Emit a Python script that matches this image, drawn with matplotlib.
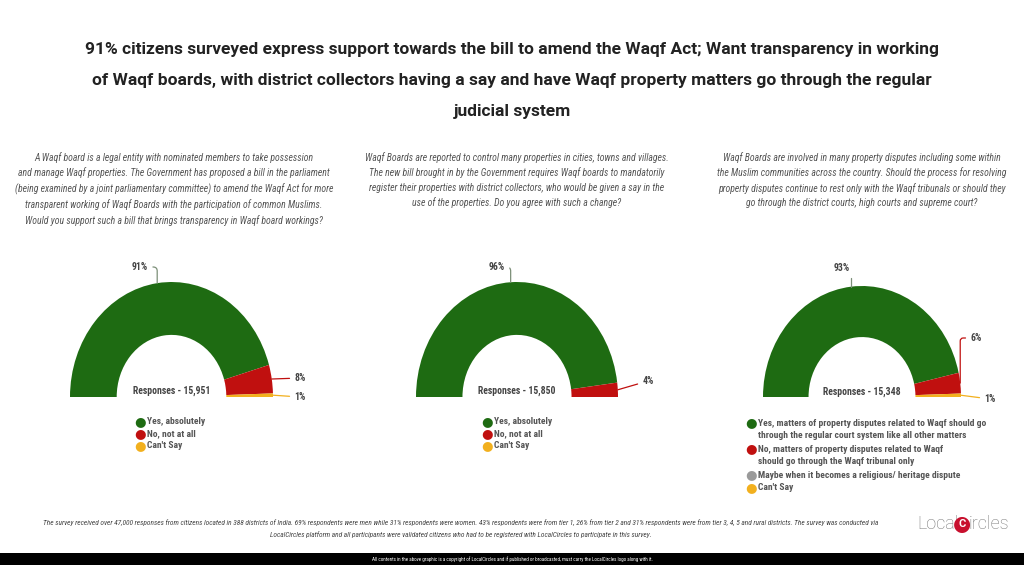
import numpy as np
import matplotlib.pyplot as plt
from matplotlib.patches import Wedge

############ data ##################
title = ("91% citizens surveyed express support towards the bill to amend the Waqf Act; Want transparency in working\n"
         "of Waqf boards, with district collectors having a say and have Waqf property matters go through the regular\n"
         "judicial system")

questions = [
    "A Waqf board is a legal entity with nominated members to take possession\n"
    "and manage Waqf properties. The Government has proposed a bill in the parliament\n"
    "(being examined by a joint parliamentary committee) to amend the Waqf Act for more\n"
    "transparent working of Waqf Boards with the participation of common Muslims.\n"
    "Would you support such a bill that brings transparency in Waqf board workings?",
    "Waqf Boards are reported to control many properties in cities, towns and villages.\n"
    "The new bill brought in by the Government requires Waqf boards to mandatorily\n"
    "register their properties with district collectors, who would be given a say in the\n"
    "use of the properties. Do you agree with such a change?",
    "Waqf Boards are involved in many property disputes including some within\n"
    "the Muslim communities across the country. Should the process for resolving\n"
    "property disputes continue to rest only with the Waqf tribunals or should they\n"
    "go through the district courts, high courts and supreme court?",
]

labels_1 = ["Yes, absolutely", "No, not at all", "Can't Say"]
values_1 = [91, 8, 1]
labels_2 = ["Yes, absolutely", "No, not at all", "Can't Say"]
values_2 = [96, 4, 0]
labels_3 = ["Yes, matters of property disputes related to Waqf should go\nthrough the regular court system like all other matters",
            "No, matters of property disputes related to Waqf\nshould go through the Waqf tribunal only",
            "Maybe when it becomes a religious/ heritage dispute",
            "Can't Say"]
values_3 = [93, 6, 0, 1]
responses = ["15,951", "15,850", "15,348"]

footer = ("The survey received over 47,000 responses from citizens located in 388 districts of India. 69% respondents were men while 31% respondents were women. "
          "43% respondents were from tier 1, 26% from tier 2 and 31% respondents were from tier 3, 4, 5 and rural districts. The survey was conducted via\n"
          "LocalCircles platform and all participants were validated citizens who had to be registered with LocalCircles to participate in this survey.")
copyright_txt = ("All contents in the above graphic is a copyright of LocalCircles and if published or broadcasted, "
                 "must carry the LocalCircles logo along with it.")

############ style ##################
GREEN = '#1e6b12'
RED = '#c0100f'
YELLOW = '#f2b01e'
GREY = '#9a9a9a'
cols_3 = [GREEN, RED, GREY, YELLOW]
cols_2 = [GREEN, RED, YELLOW]

COND = ['Roboto Condensed', 'Archivo Narrow', 'Asap Condensed', 'DejaVu Sans']
plt.rcParams['font.family'] = ['Roboto', 'DejaVu Sans']

W, H = 1024, 565
fig = plt.figure(figsize=(W / 100, H / 100), dpi=100)
fig.patch.set_facecolor('white')

def fx(px):
    return px / W

def fy(py):
    return 1 - py / H

fig.text(0.5, fy(80.5), title, ha='center', va='center', fontsize=12.5, fontweight='bold',
         color='#222222', linespacing=2.3)

q_centers = [174, 517, 862]
for qx, q in zip(q_centers, questions):
    fig.text(fx(qx), fy(152), q, ha='center', va='top', fontsize=7.05, style='italic',
             color='#555555', linespacing=1.52, family=COND)

############ donuts ##################
def draw_donut(box, values, colors, resp, label_pos, leg_x, leg_y, legend_labels, leg_gap):
    left, right, top, base = box
    ax = fig.add_axes([fx(left), fy(base), (right - left) / W, (base - top) / H])
    ax.set_xlim(-1, 1)
    ax.set_ylim(0, 1)
    ax.axis('off')
    total = float(sum(values))
    angle = 180.0
    mids = []
    for v, c in zip(values, colors):
        span = 180.0 * v / total
        if v > 0:
            ax.add_patch(Wedge((0, 0), 1.0, angle - span, angle, width=0.46,
                               facecolor=c, edgecolor='none'))
        mids.append(angle - span / 2)
        angle -= span
    ax.text(0, 0.05, "Responses - " + resp, ha='center', va='center', fontsize=7.0,
            fontweight='bold', color='#444444', family=COND)
    # value labels with leader lines
    for v, c, m, lp in zip(values, colors, mids, label_pos):
        if lp is None:
            continue
        (tx, ty, style) = lp
        px = np.cos(np.radians(m))
        py = np.sin(np.radians(m))
        tdx = (tx - left) / (right - left) * 2 - 1
        tdy = (base - ty) / (base - top)
        ax.annotate("%d%%" % v, xy=(px, py), xytext=(tdx, tdy), textcoords='data',
                    ha='center', va='center', fontsize=7.0, fontweight='bold', color='#444444',
                    annotation_clip=False, family=COND,
                    arrowprops=dict(arrowstyle='-', color=c if c != GREEN else '#7c8f78', lw=0.9,
                                    shrinkA=1.5, shrinkB=0, connectionstyle=style))
    # legend
    y = leg_y
    for lab, c in zip(legend_labels, colors):
        fig.text(fx(leg_x), fy(y), '\u25cf', ha='center', va='center', fontsize=9.5,
                 color=c, family='DejaVu Sans')
        for line in lab.split('\n'):
            fig.text(fx(leg_x + 7), fy(y), line, ha='left', va='center',
                     fontsize=6.8, fontweight='bold', color='#555555', family=COND)
            y += leg_gap

draw_donut((70, 273, 282, 397), values_1, cols_2, responses[0],
           [(140, 267, 'angle,angleA=0,angleB=90,rad=4'), (300, 378, 'arc3'), (300, 397, 'arc3')],
           140, 422, labels_1, 11.7)
draw_donut((416, 618, 282, 397), values_2, cols_2, responses[1],
           [(497, 267, 'angle,angleA=0,angleB=90,rad=4'), (648, 381, 'arc3'), None],
           487, 422, labels_2, 11.7)
draw_donut((763, 961, 286, 397), values_3, cols_3, responses[2],
           [(842, 268, 'angle,angleA=0,angleB=90,rad=4'), (976, 338, 'angle,angleA=180,angleB=90,rad=3'),
            None, (990, 399, 'arc3')],
           751, 423, labels_3, 13)

############ footer ##################
fig.text(fx(461), fy(528.5), footer, ha='center', va='center', fontsize=5.3, style='italic',
         color='#444444', linespacing=1.95, family=COND)

fig.text(fx(917), fy(524), 'Local', ha='left', va='center', fontsize=13, color='#777777',
         fontweight='light')
fig.text(fx(962), fy(524), '\u25cf', ha='center', va='center', fontsize=15, color='#c8102e',
         family='DejaVu Sans')
fig.text(fx(962), fy(524), 'C', ha='center', va='center', fontsize=8, color='white',
         fontweight='bold')
fig.text(fx(969), fy(524), 'ircles', ha='left', va='center', fontsize=13, color='#777777',
         fontweight='light')

bar = fig.add_axes([0, 0, 1, 12 / H])
bar.set_facecolor('black')
bar.set_xticks([])
bar.set_yticks([])
for s in bar.spines.values():
    s.set_visible(False)
bar.text(0.5, 0.5, copyright_txt, ha='center', va='center', fontsize=3.6, color='white',
         transform=bar.transAxes, family=COND)

fig.savefig('out.png', dpi=100, facecolor='white')
